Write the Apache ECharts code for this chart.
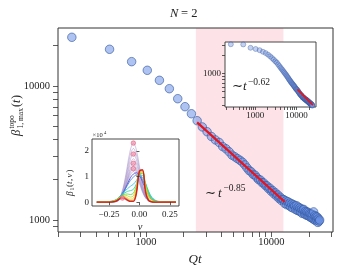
<!DOCTYPE html>
<html><head><meta charset="utf-8">
<script src="https://cdn.jsdelivr.net/npm/echarts@6/dist/echarts.min.js"></script>
<style>html,body{margin:0;padding:0;background:#fff}#c{width:339px;height:273px}</style>
</head><body><div id="c"></div>
<script>
// ---------- data ----------
const qt = [256,512,768,1024,1280,1536,1792,2048,2304,2560,2816,3072,3328,3584,3840,4096,4352,4608,4864,5120,5376,5632,5888,6144,6400,6656,6912,7168,7424,7680,7936,8192,8448,8704,8960,9216,9472,9728,9984,10240,10496,10752,11008,11264,11520,11776,12032,12288,12544,12800,13056,13312,13568,13824,14080,14336,14592,14848,15104,15360,15616,15872,16128,16384,16640,16896,17152,17408,17664,17920,18176,18432,18688,18944,19200,19456,19712,19968,20224,20480,20736,20992,21248,21504,21760,22016,22272,22528,22784,23040,23296,23552,23808,24064,24320];
const betaMax = [23100,18800,15200,13100,11030,9550,8040,7010,6210,5510,
 4950,4560,4200,3960,3790,3530,3400,3230,3050,2960,
 2870,2790,2700,2580,2450,2340,2290,2190,2160,2070,
 2000,1990,1900,1890,1810,1800,1720,1730,1640,1660,
 1570,1600,1510,1540,1450,1480,1400,1430,
 1420,1330,1390,1300,1370,1290,1340,1250,1320,1230,
 1300,1270,1200,1280,1180,1250,1170,1230,1150,1210,
 1120,1190,1200,1110,1160,1090,1150,1080,1140,1070,
 1120,1050,1110,1040,1100,1020,1150,1010,1080,990,
 1060,1000,1050,960,1020,980,1000];
const fitRange = [2500, 12500];
const fitLine = [[2560, 5350], [12800, 1365]];

const insetBeta = [3080,3060,2690,2570,2455,2307,2193,2065,1936,1811,
 1706,1600,1524,1426,1337,1262,1197,1138,1081,1033,
 988,944,905,867,830,796,768,740,717,695,
 675,656,639,622,606,590,572,555,548,541,
 528,516,504,492,481,471,461,452,445,438,
 431,432,418,412,398,402,398,400,389,385,
 375,378,375,378,369,366,356,360,357,362,
 352,349,340,343,340,344,335,332,324,327,
 325,328,320,317,309,313,311,314,307,305,
 297,300,297,300,292];
const insetFitRange = [10400, 20600];
const insetFitLine = [[10500, 545], [25000, 298]];

const nuGrid = [-0.35,-0.25,-0.2,-0.175,-0.15,-0.125,-0.1,-0.075,-0.05,-0.025,0,0.025,0.05,0.075,0.1,0.125,0.15,0.2,0.3];
const betaNuEarly = [
 [0,0,0.03,0.10,0.31,0.75,1.40,2.04,2.31,2.04,1.40,0.75,0.31,0.10,0.03,0,0,0,0],
 [0,0,0.02,0.09,0.28,0.68,1.27,1.85,2.10,1.85,1.27,0.68,0.28,0.09,0.02,0,0,0,0],
 [0,0,0.02,0.08,0.25,0.61,1.14,1.66,1.88,1.66,1.14,0.61,0.25,0.08,0.02,0,0,0,0],
 [0,0,0.02,0.07,0.23,0.55,1.03,1.50,1.70,1.50,1.03,0.55,0.23,0.07,0.02,0,0,0,0],
 [0,0,0.02,0.07,0.21,0.49,0.92,1.34,1.52,1.34,0.92,0.49,0.21,0.07,0.02,0,0,0,0],
 [0,0,0.02,0.06,0.19,0.46,0.86,1.24,1.41,1.24,0.86,0.46,0.19,0.06,0.02,0,0,0,0],
 [0,0,0.01,0.06,0.18,0.43,0.80,1.16,1.31,1.16,0.80,0.43,0.18,0.06,0.01,0,0,0,0],
 [0,0,0.01,0.05,0.16,0.39,0.73,1.06,1.20,1.06,0.73,0.39,0.16,0.05,0.01,0,0,0,0]
];
const betaNuLate = [
 [0,0.01,0.05,0.12,0.25,0.45,0.70,0.95,1.10,1.15,1.05,0.80,0.50,0.25,0.10,0.04,0.01,0,0],
 [0,0.01,0.06,0.14,0.28,0.45,0.65,0.85,0.98,1.06,1.05,0.88,0.60,0.33,0.15,0.06,0.02,0,0],
 [0,0.02,0.07,0.15,0.27,0.40,0.52,0.62,0.70,0.85,1.02,0.98,0.72,0.42,0.20,0.09,0.04,0.01,0],
 [0,0.02,0.08,0.16,0.26,0.35,0.42,0.45,0.50,0.72,1.05,1.05,0.75,0.40,0.18,0.08,0.03,0,0],
 [0,0.01,0.07,0.15,0.24,0.30,0.32,0.30,0.35,0.65,1.10,1.12,0.72,0.32,0.12,0.05,0.02,0,0],
 [0,0.01,0.06,0.14,0.22,0.27,0.25,0.20,0.25,0.62,1.15,1.15,0.65,0.25,0.08,0.03,0.01,0,0],
 [0,0.01,0.05,0.12,0.20,0.23,0.18,0.12,0.15,0.55,1.18,1.18,0.58,0.18,0.05,0.02,0,0,0],
 [0,0,0.04,0.11,0.18,0.19,0.13,0.07,0.08,0.45,1.20,1.22,0.50,0.12,0.03,0,0,0,0],
 [0,0,0.03,0.10,0.17,0.17,0.10,0.04,0.04,0.38,1.22,1.25,0.42,0.08,0.02,0,0,0,0],
 [0,0,0.03,0.09,0.16,0.15,0.08,0.03,0.03,0.33,1.22,1.27,0.38,0.06,0.01,0,0,0,0]
];
const topoMaxNu = [-0.05,-0.05,-0.05,-0.05,-0.14];
const topoMaxVal = [2.31,1.88,1.52,1.31,0.16];

const mainXTicks = [200,300,400,500,600,700,800,900,1000,2000,3000,4000,5000,6000,7000,8000,9000,10000,20000,30000];
const mainYTicks = [900,1000,2000,3000,4000,5000,6000,7000,8000,9000,10000,20000];
const mainXLabels = [1000,10000];
const mainYLabels = [1000,10000];
const insetXTicks = [200,300,400,500,600,700,800,900,1000,2000,3000,4000,5000,6000,7000,8000,9000,10000,20000];
const insetYTicks = [300,400,500,600,700,800,900,1000,2000,3000];
const insetXLabels = [1000,10000];
const insetYLabels = [1000];
const nuTicks = [-0.25,0,0.25];
const betaNuTicks = [0,1,2];

// ---------- styles ----------
const FONT = 'Liberation Serif';
const INK = '#222';
const SPINE = '#333';
const lateColors = ['#5a4fcf','#3f7fe0','#2ec4e6','#2fd4a8','#5cd64a','#b5e02c','#ecd21f','#f39a1e','#ea5a1c','#c8141c'];

const zip = (a, b) => a.map((v, i) => [v, b[i]]);

function axis(opts) {
  return {
    gridIndex: opts.grid, type: opts.type, min: opts.min, max: opts.max,
    logBase: 10, z: opts.z || 0,
    splitLine: {show: false},
    axisLine: {show: false},
    axisTick: {show: true, customValues: opts.ticks, length: opts.tickLen, inside: false,
               lineStyle: {color: SPINE, width: 0.8}},
    axisLabel: {show: true, customValues: opts.labels, margin: opts.margin,
                fontFamily: FONT, fontSize: opts.fs, color: INK,
                formatter: opts.fmt || (v => String(v))}
  };
}

const chart = echarts.init(document.getElementById('c'), null, {renderer: 'canvas'});
const series = [];

// main band
series.push({type: 'line', xAxisIndex: 0, yAxisIndex: 0, data: [], z: 1, silent: true,
  markArea: {silent: true, itemStyle: {color: '#fde3e8'}, data: [[{xAxis: fitRange[0]}, {xAxis: fitRange[1]}]]}});
series.push({type: 'scatter', xAxisIndex: 0, yAxisIndex: 0, data: zip(qt, betaMax), symbolSize: 8.5, z: 2,
  itemStyle: {color: 'rgba(105,145,230,0.68)', borderColor: '#34589e', borderWidth: 0.8}});
series.push({type: 'line', xAxisIndex: 0, yAxisIndex: 0, data: fitLine, symbol: 'none', z: 3,
  lineStyle: {color: '#e8141c', width: 2.2}});

// inset 1
series.push({type: 'line', xAxisIndex: 1, yAxisIndex: 1, data: [], z: 5, silent: true,
  markArea: {silent: true, itemStyle: {color: '#fde3e8'}, data: [[{xAxis: insetFitRange[0]}, {xAxis: insetFitRange[1]}]]}});
series.push({type: 'scatter', xAxisIndex: 1, yAxisIndex: 1, data: zip(qt, insetBeta), symbolSize: 5, z: 6,
  itemStyle: {color: 'rgba(115,150,222,0.55)', borderColor: 'rgba(50,80,150,0.75)', borderWidth: 0.6}});
series.push({type: 'line', xAxisIndex: 1, yAxisIndex: 1, data: insetFitLine, symbol: 'none', z: 7,
  lineStyle: {color: '#e8141c', width: 1.8}});

// inset 2
betaNuEarly.forEach(c => series.push({type: 'line', xAxisIndex: 2, yAxisIndex: 2, data: zip(nuGrid, c),
  symbol: 'none', smooth: 0.35, z: 5, lineStyle: {color: 'rgba(150,125,190,0.55)', width: 0.8}}));
betaNuLate.forEach((c, i) => series.push({type: 'line', xAxisIndex: 2, yAxisIndex: 2, data: zip(nuGrid, c),
  symbol: 'none', smooth: 0.35, z: 5, lineStyle: {color: lateColors[i], width: i === betaNuLate.length - 1 ? 1.4 : 1, opacity: 0.85}}));
series.push({type: 'scatter', xAxisIndex: 2, yAxisIndex: 2, data: zip(topoMaxNu, topoMaxVal), symbolSize: 4.5, z: 7,
  itemStyle: {color: 'rgba(245,140,170,0.85)', borderColor: '#d8486a', borderWidth: 0.6}});

const txt = (x, y, text, size, extra) => ({type: 'text', x, y, z: 20,
  style: Object.assign({text, fontFamily: FONT, fontSize: size, fill: INK, align: 'left', verticalAlign: 'middle'}, extra || {})});

const graphic = [
  txt(170, 14, 'N', 12.5, {fontStyle: 'italic'}),
  txt(181, 14, '= 2', 12.5),
  txt(195, 260, 'Qt', 13, {align: 'center', fontStyle: 'italic'}),
  {type: 'group', x: 17, y: 117, rotation: Math.PI / 2, z: 20, children: [
    txt(-19, 0, 'β', 12.5, {fontStyle: 'italic'}),
    txt(-11.5, -5, 'topo', 7.5),
    txt(-11.5, 4, '1, max', 7.5),
    txt(10, 0, '(', 12),
    txt(14, 0, 't', 12, {fontStyle: 'italic'}),
    txt(18, 0, ')', 12)
  ]},
  txt(205, 194, '∼', 13),
  txt(218, 194, 't', 13, {fontStyle: 'italic'}),
  txt(223.5, 188, '−0.85', 9.5),
  txt(232, 87, '∼', 13),
  txt(243, 87, 't', 13, {fontStyle: 'italic'}),
  txt(248, 82, '−0.62', 9.5),
  {type: 'group', x: 70, y: 181, rotation: Math.PI / 2, z: 20, children: [
    txt(-15, 0, 'β', 9.5, {fontStyle: 'italic'}),
    txt(-9.5, 2.5, '1', 6),
    txt(-6, 0, '(', 9),
    txt(-3, 0, 't', 9, {fontStyle: 'italic'}),
    txt(0, 0, ',', 9),
    txt(3.5, 0, 'ν', 9, {fontStyle: 'italic'}),
    txt(8.5, 0, ')', 9)
  ]},
  txt(140, 227, 'ν', 10.5, {align: 'center', fontStyle: 'italic'}),
  txt(92.5, 135, '×10', 6.5),
  txt(104, 132.5, '4', 4.5)
];

const option = {
  animation: false,
  backgroundColor: '#fff',
  grid: [
    {left: 58, top: 28, width: 275, height: 204, show: true, z: 3, backgroundColor: 'transparent', borderColor: SPINE, borderWidth: 1},
    {left: 225, top: 42, width: 91, height: 65, show: true, z: 4, backgroundColor: '#fff', borderColor: SPINE, borderWidth: 0.9},
    {left: 92, top: 139, width: 87, height: 67, show: true, z: 4, backgroundColor: '#fff', borderColor: SPINE, borderWidth: 0.9}
  ],
  xAxis: [
    axis({grid: 0, type: 'log', min: 198.5, max: 31080, ticks: mainXTicks, labels: mainXLabels, tickLen: 5, margin: 5, fs: 10.5}),
    axis({grid: 1, type: 'log', min: 185, max: 29700, ticks: insetXTicks, labels: insetXLabels, tickLen: 3, margin: 4, fs: 9, z: 8}),
    axis({grid: 2, type: 'value', min: -0.39, max: 0.325, ticks: nuTicks, labels: nuTicks, tickLen: 3, margin: 4, fs: 9, z: 8,
          fmt: v => v.toFixed(2).replace('-', '−')})
  ],
  yAxis: [
    axis({grid: 0, type: 'log', min: 814, max: 27100, ticks: mainYTicks, labels: mainYLabels, tickLen: 5, margin: 8, fs: 10.5}),
    axis({grid: 1, type: 'log', min: 277, max: 3360, ticks: insetYTicks, labels: insetYLabels, tickLen: 3, margin: 4, fs: 9, z: 8}),
    axis({grid: 2, type: 'value', min: -0.15, max: 2.47, ticks: betaNuTicks, labels: betaNuTicks, tickLen: 3, margin: 3, fs: 9, z: 8})
  ],
  series,
  graphic
};
chart.setOption(option);
</script></body></html>
